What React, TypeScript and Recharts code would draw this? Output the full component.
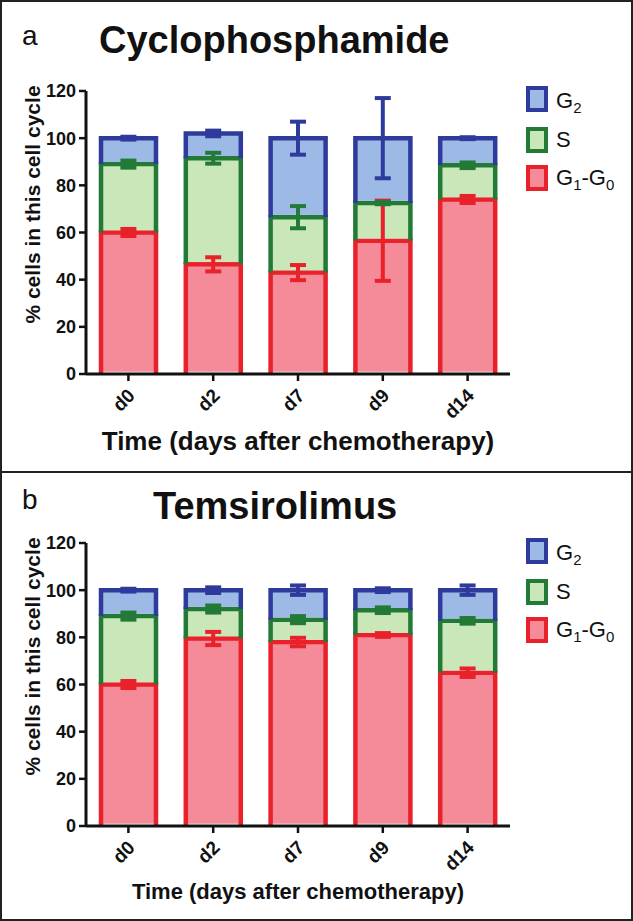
import React from "react";
import { ComposedChart, Bar, Scatter, ErrorBar, XAxis, YAxis, Label } from "recharts";

const days = ["d0", "d2", "d7", "d9", "d14"];
const yTicks = [0, 20, 40, 60, 80, 100, 120];

// panel a - cyclophosphamide, size of each phase segment (% of cells)
const cycG1 = [60, 46.5, 43, 56.5, 74];
const cycS = [29, 45, 23.5, 16, 14.5];
const cycG2 = [11, 10.5, 33.5, 27.5, 11.5];
const cycG1Err = [1.5, 3, 3.2, 17, 1.5];
const cycSErr = [1.5, 2.3, 4.7, 0.5, 1.2];
const cycG2Err = [0.6, 1.2, 7, 17, 0.4];

// panel b - temsirolimus
const temG1 = [60, 79.5, 78, 81, 65];
const temS = [29, 12.5, 9.5, 10.5, 22];
const temG2 = [11, 8, 12.5, 8.5, 13];
const temG1Err = [1.5, 2.8, 1.8, 0.8, 1.8];
const temSErr = [1.5, 1.5, 1.5, 1.2, 1.2];
const temG2Err = [0.6, 1.2, 2, 0.8, 2];

const RED = "#e8212b";
const RED_FILL = "#f58a98";
const GREEN = "#237a36";
const GREEN_FILL = "#c9e7b9";
const BLUE = "#2e3a9c";
const BLUE_FILL = "#9dbae6";
const INK = "#111";
const FONT = "'Liberation Sans', Arial, Helvetica, sans-serif";

function buildRows(g1: number[], s: number[], g2: number[], e1: number[], es: number[], e2: number[]) {
  return days.map((day, i) => ({
    day,
    g1: g1[i],
    s: s[i],
    g2: g2[i],
    g1Top: g1[i],
    sTop: g1[i] + s[i],
    g2Top: g1[i] + s[i] + g2[i],
    g1Err: e1[i],
    sErr: es[i],
    g2Err: e2[i],
  }));
}

const cycRows = buildRows(cycG1, cycS, cycG2, cycG1Err, cycSErr, cycG2Err);
const temRows = buildRows(temG1, temS, temG2, temG1Err, temSErr, temG2Err);

// open-bottomed segment so the lower phase keeps its coloured top edge
function segment(fill: string, stroke: string) {
  return (props: any) => {
    const { x, y, width, height } = props;
    if (!height || height <= 0) return <g />;
    const sw = 4.5;
    return (
      <g>
        <rect x={x} y={y} width={width} height={Math.max(0, height - sw / 2)} fill={fill} />
        <path
          d={`M${x},${y + height}V${y}H${x + width}V${y + height}`}
          fill="none"
          stroke={stroke}
          strokeWidth={sw}
        />
      </g>
    );
  };
}

const DayTick = ({ x, y, payload }: any) => (
  <g transform={`translate(${x + 3},${y + 9}) rotate(-45)`}>
    <text textAnchor="end" dy="0.35em" fontSize={19} fontWeight={700} fill={INK} fontFamily={FONT}>
      {payload.value}
    </text>
  </g>
);

type PanelProps = {
  top: number;
  letter: string;
  letterY: number;
  title: string;
  titleX: number;
  titleY: number;
  rows: any[];
  xLabelSize: number;
  xLabelDy: number;
};

function Panel({ top, letter, letterY, title, titleX, titleY, rows, xLabelSize, xLabelDy }: PanelProps) {
  const W = 633;
  const H = 470;
  return (
    <div style={{ position: "absolute", left: 0, top, width: W, height: H }}>
      <ComposedChart width={W} height={H} data={rows} margin={{ top: 91, right: 123, bottom: 0, left: 0 }}>
        <XAxis
          dataKey="day"
          height={96}
          interval={0}
          tickSize={7}
          tickMargin={2}
          axisLine={{ stroke: INK, strokeWidth: 3 }}
          tickLine={{ stroke: INK, strokeWidth: 2.5 }}
          tick={<DayTick />}
        >
          <Label
            content={({ viewBox }: any) => (
              <text
                x={viewBox.x + viewBox.width / 2}
                y={viewBox.y + xLabelDy}
                textAnchor="middle"
                fontSize={xLabelSize}
                fontWeight={700}
                fill={INK}
                fontFamily={FONT}
              >
                Time (days after chemotherapy)
              </text>
            )}
          />
        </XAxis>
        <YAxis
          width={86}
          domain={[0, 120]}
          ticks={yTicks}
          tickSize={7}
          tickMargin={3}
          axisLine={{ stroke: INK, strokeWidth: 3 }}
          tickLine={{ stroke: INK, strokeWidth: 2.5 }}
          tick={{ fontSize: 18, fontWeight: 700, fill: INK, fontFamily: FONT }}
        >
          <Label
            content={({ viewBox }: any) => {
              const cx = viewBox.x + 32;
              const cy = viewBox.y + viewBox.height / 2 - 28;
              return (
                <text
                  x={cx}
                  y={cy}
                  transform={`rotate(-90 ${cx} ${cy})`}
                  textAnchor="middle"
                  dominantBaseline="central"
                  fontSize={21}
                  fontWeight={700}
                  fill={INK}
                  fontFamily={FONT}
                >
                  % cells in this cell cycle
                </text>
              );
            }}
          />
        </YAxis>
        <Bar dataKey="g1" stackId="a" barSize={55} shape={segment(RED_FILL, RED)} isAnimationActive={false} />
        <Bar dataKey="s" stackId="a" barSize={55} shape={segment(GREEN_FILL, GREEN)} isAnimationActive={false} />
        <Bar dataKey="g2" stackId="a" barSize={55} shape={segment(BLUE_FILL, BLUE)} isAnimationActive={false} />
        <Scatter dataKey="g1Top" shape={() => <g />} isAnimationActive={false}>
          <ErrorBar dataKey="g1Err" direction="y" width={8} strokeWidth={4} stroke={RED} isAnimationActive={false} />
        </Scatter>
        <Scatter dataKey="sTop" shape={() => <g />} isAnimationActive={false}>
          <ErrorBar dataKey="sErr" direction="y" width={8} strokeWidth={4} stroke={GREEN} isAnimationActive={false} />
        </Scatter>
        <Scatter dataKey="g2Top" shape={() => <g />} isAnimationActive={false}>
          <ErrorBar dataKey="g2Err" direction="y" width={8} strokeWidth={4} stroke={BLUE} isAnimationActive={false} />
        </Scatter>
      </ComposedChart>
      <svg
        width={W}
        height={H}
        style={{ position: "absolute", left: 0, top: 0, pointerEvents: "none" }}
        fontFamily={FONT}
      >
        <text x={22} y={letterY} fontSize={28} fill={INK}>
          {letter}
        </text>
        <text x={titleX} y={titleY} fontSize={38} fontWeight={700} fill={INK}>
          {title}
        </text>
        <rect x={528} y={88} width={18} height={22} fill={BLUE_FILL} stroke={BLUE} strokeWidth={4} />
        <rect x={528} y={129} width={18} height={22} fill={GREEN_FILL} stroke={GREEN} strokeWidth={4} />
        <rect x={528} y={167} width={18} height={22} fill={RED_FILL} stroke={RED} strokeWidth={4} />
        <text x={556} y={108} fontSize={22} fill={INK}>
          G<tspan fontSize={15} dy={5}>2</tspan>
        </text>
        <text x={556} y={147} fontSize={22} fill={INK}>
          S
        </text>
        <text x={556} y={185} fontSize={22} fill={INK}>
          G<tspan fontSize={15} dy={5}>1</tspan>
          <tspan dy={-5}>-G</tspan>
          <tspan fontSize={15} dy={5}>0</tspan>
        </text>
      </svg>
    </div>
  );
}

export default function App() {
  return (
    <div style={{ position: "absolute", left: 0, top: 0, width: 633, height: 921, background: "#fff", overflow: "hidden" }}>
      <Panel
        top={0}
        letter="a"
        letterY={45}
        title="Cyclophosphamide"
        titleX={99}
        titleY={53}
        rows={cycRows}
        xLabelSize={26}
        xLabelDy={76}
      />
      <Panel
        top={452}
        letter="b"
        letterY={57}
        title="Temsirolimus"
        titleX={153}
        titleY={67}
        rows={temRows}
        xLabelSize={22}
        xLabelDy={73}
      />
      <div style={{ position: "absolute", left: 0, top: 471, width: 633, height: 2, background: "#222" }} />
      <div
        style={{
          position: "absolute",
          left: 0,
          top: 0,
          width: 633,
          height: 921,
          border: "2px solid #222",
          boxSizing: "border-box",
          pointerEvents: "none",
        }}
      />
    </div>
  );
}
